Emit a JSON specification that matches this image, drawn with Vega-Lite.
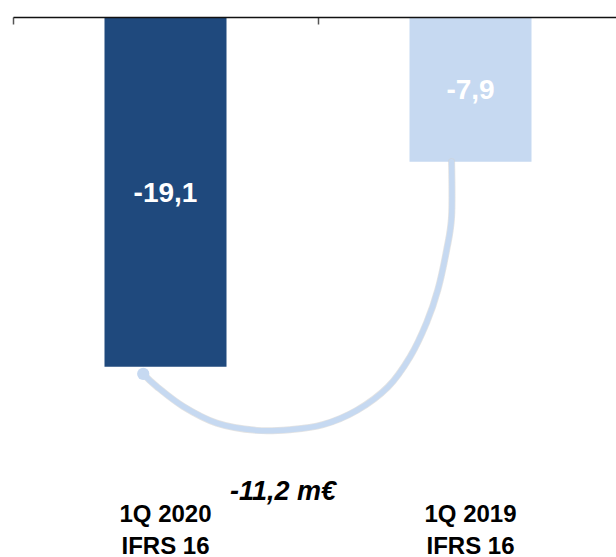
{
  "$schema": "https://vega.github.io/schema/vega-lite/v6.json",
  "width": 610,
  "height": 476,
  "autosize": {"type": "none"},
  "padding": {"left": 13, "top": 17, "right": 0, "bottom": 64},
  "background": "white",
  "config": {"view": {"stroke": null}, "font": "Liberation Sans"},
  "datasets": {
    "bars": [
      {"period": "1Q 2020 IFRS 16", "value": -19.1, "label": "-19,1"},
      {"period": "1Q 2019 IFRS 16", "value": -7.9, "label": "-7,9"}
    ],
    "curve": [
      {"i": 0, "cx": 1.438, "cy": -7.9},
      {"i": 1, "cx": 1.438, "cy": -10.9},
      {"i": 2, "cx": 1.422, "cy": -12.7},
      {"i": 3, "cx": 1.393, "cy": -14.9},
      {"i": 4, "cx": 1.356, "cy": -16.7},
      {"i": 5, "cx": 1.302, "cy": -18.56},
      {"i": 6, "cx": 1.23, "cy": -20.2},
      {"i": 7, "cx": 1.128, "cy": -21.48},
      {"i": 8, "cx": 1.016, "cy": -22.27},
      {"i": 9, "cx": 0.908, "cy": -22.54},
      {"i": 10, "cx": 0.799, "cy": -22.58},
      {"i": 11, "cx": 0.668, "cy": -22.18},
      {"i": 12, "cx": 0.558, "cy": -21.27},
      {"i": 13, "cx": 0.471, "cy": -20.18},
      {"i": 14, "cx": 0.427, "cy": -19.49}
    ],
    "note": [
      {"cx": 0.885, "cy": -26.4, "text": "-11,2 m€"}
    ]
  },
  "layer": [
    {
      "data": {"name": "bars"},
      "layer": [
        {
          "mark": {"type": "bar"},
          "encoding": {
            "x": {
              "field": "period", "type": "nominal", "sort": null,
              "scale": {"paddingInner": 0.6, "paddingOuter": 0.3},
              "axis": {
                "orient": "bottom", "domain": false, "ticks": false, "tickSize": 0, "title": null, "grid": false,
                "labelExpr": "[slice(datum.label, 0, 7), slice(datum.label, 8)]",
                "labelAngle": 0, "labelFont": "Liberation Sans", "labelFontSize": 24, "labelFontWeight": "bold",
                "labelColor": "#000000", "labelBaseline": "alphabetic", "labelPadding": 28, "labelLineHeight": 32
              }
            },
            "y": {"field": "value", "type": "quantitative", "scale": {"domain": [-26, 0], "nice": false}, "axis": null},
            "color": {"field": "period", "type": "nominal", "sort": null, "scale": {"range": ["#1F497D", "#C6D9F1"]}, "legend": null}
          }
        },
        {
          "transform": [{"calculate": "datum.value / 2", "as": "mid"}],
          "mark": {"type": "text", "color": "white", "fontSize": 28, "fontWeight": "bold", "baseline": "middle", "dy": 2},
          "encoding": {
            "x": {
              "field": "period", "type": "nominal", "sort": null,
              "scale": {"paddingInner": 0.6, "paddingOuter": 0.3}
            },
            "y": {"field": "mid", "type": "quantitative", "scale": {"domain": [-26, 0], "nice": false}, "axis": null},
            "text": {"field": "label"}
          }
        }
      ]
    },
    {
      "layer": [
        {
          "data": {"name": "curve"},
          "mark": {"type": "line", "color": "#D0D0D0", "opacity": 0.6, "strokeWidth": 7, "interpolate": "cardinal", "strokeCap": "round", "dy": 2},
          "encoding": {
            "x": {
              "field": "cx", "type": "quantitative", "scale": {"domain": [0, 2], "nice": false, "zero": false},
              "axis": {
                "orient": "top", "values": [0, 1, 2], "labels": false, "title": null, "grid": false,
                "domainColor": "#111111", "domainWidth": 1.5,
                "tickColor": "#555555", "tickWidth": 1.5, "tickSize": -7, "zindex": 1
              }
            },
            "y": {"field": "cy", "type": "quantitative", "scale": {"domain": [-26, 0], "nice": false}, "axis": null},
            "order": {"field": "i"}
          }
        },
        {
          "data": {"name": "curve"},
          "mark": {"type": "line", "color": "#C6D9F1", "strokeWidth": 5.5, "interpolate": "cardinal", "strokeCap": "round"},
          "encoding": {
            "x": {"field": "cx", "type": "quantitative", "scale": {"domain": [0, 2], "nice": false, "zero": false}},
            "y": {"field": "cy", "type": "quantitative", "scale": {"domain": [-26, 0], "nice": false}, "axis": null},
            "order": {"field": "i"}
          }
        },
        {
          "data": {"name": "curve"},
          "transform": [{"filter": "datum.i == 14"}],
          "mark": {"type": "circle", "color": "#C6D9F1", "opacity": 1, "size": 150},
          "encoding": {
            "x": {"field": "cx", "type": "quantitative", "scale": {"domain": [0, 2], "nice": false, "zero": false}},
            "y": {"field": "cy", "type": "quantitative", "scale": {"domain": [-26, 0], "nice": false}, "axis": null}
          }
        },
        {
          "data": {"name": "note"},
          "mark": {"type": "text", "fontSize": 27, "fontWeight": "bold", "fontStyle": "italic", "color": "#000000", "baseline": "alphabetic", "align": "center"},
          "encoding": {
            "x": {"field": "cx", "type": "quantitative", "scale": {"domain": [0, 2], "nice": false, "zero": false}},
            "y": {"field": "cy", "type": "quantitative", "scale": {"domain": [-26, 0], "nice": false}, "axis": null},
            "text": {"field": "text"}
          }
        }
      ]
    }
  ],
  "resolve": {"scale": {"x": "independent"}}
}
